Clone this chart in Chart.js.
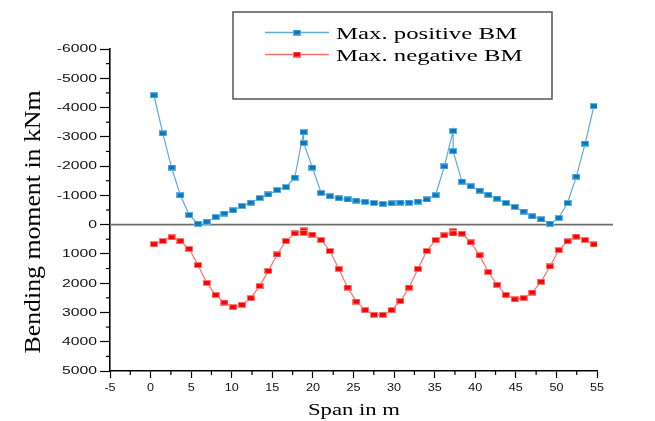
<!DOCTYPE html>
<html>
<head>
<meta charset="utf-8">
<script src="https://cdn.jsdelivr.net/npm/chart.js@4"></script>
<style>
  html, body { margin: 0; padding: 0; background: #fff; }
  #bm { display: block; }
</style>
</head>
<body>
<canvas id="bm" width="655" height="421"></canvas>
<script>
/* ---------- data ---------- */
const spans = [0, 1, 2, 3, 4, 5, 6, 7, 8, 9, 10, 11, 12, 13, 14, 15, 16, 17, 17,
  18, 19, 20, 21, 22, 23, 24, 25, 26, 27, 28, 29, 30, 31, 32, 33, 34, 34,
  35, 36, 37, 38, 39, 40, 41, 42, 43, 44, 45, 46, 47, 48, 49, 50];

const positiveBM = [-4420, -3120, -1950, -1000, -330, -30, -100, -260, -380, -490, -640, -750, -910, -1030, -1180, -1280, -1610, -3160, -2790,
  -1950, -1085, -970, -900, -860, -820, -780, -740, -710, -730, -750, -750, -790, -860, -1005, -1990, -3200, -2510,
  -1470, -1310, -1160, -1020, -890, -740, -605, -445, -285, -180, -30, -230, -740, -1640, -2770, -4050];

const negativeBM = [670, 560, 430, 560, 830, 1380, 1990, 2400, 2660, 2820, 2740, 2510, 2100, 1580, 1020, 560, 300, 200, 285,
  340, 525, 900, 1510, 2150, 2630, 2920, 3080, 3080, 2920, 2610, 2150, 1510, 900, 525, 365, 220, 300,
  310, 605, 1050, 1620, 2055, 2400, 2550, 2510, 2320, 1950, 1430, 870, 570, 410, 525, 675];

const seriesNames = ["Max. positive BM", "Max. negative BM"];
const xTitle = "Span in m";
const yTitle = "Bending moment in kNm";

/* ---------- markers ---------- */
function makeMarker(fill, edge) {
  const c = document.createElement("canvas");
  c.width = 8; c.height = 6;
  const g = c.getContext("2d");
  g.fillStyle = edge; g.fillRect(0, 0, 8, 6);
  g.fillStyle = fill; g.fillRect(1, 1, 6, 4);
  return c;
}
const blueMark = makeMarker("#0878bf", "#63b1df");
const redMark = makeMarker("#ff0000", "#ff7a7a");

const toPoints = vals => vals.map((v, i) => ({ x: spans[i], y: v }));

const SERIF = "'Liberation Serif', 'Times New Roman', serif";
const SANS = "'Liberation Sans', Arial, sans-serif";

// stretched text helper (reference text is drawn wide)
function wideText(ctx, text, x, y, font, sx, align, base) {
  ctx.save();
  ctx.font = font;
  ctx.textAlign = align;
  ctx.textBaseline = base;
  ctx.translate(x, y);
  ctx.scale(sx, 1);
  ctx.fillText(text, 0, 0);
  ctx.restore();
}

/* ---------- axes decoration: minor ticks, labels, titles, zero line ---------- */
const decor = {
  id: "decor",
  beforeDatasetsDraw(chart) {
    const ctx = chart.ctx;
    const y = chart.scales.y;
    const area = chart.chartArea;
    const y0 = y.getPixelForValue(0);
    ctx.save();
    ctx.strokeStyle = "#6e6e6e";
    ctx.lineWidth = 1.6;
    ctx.beginPath();
    ctx.moveTo(area.left, y0);
    ctx.lineTo(area.right + 16, y0);
    ctx.stroke();
    ctx.restore();
  },
  afterDraw(chart) {
    const ctx = chart.ctx;
    const y = chart.scales.y;
    const xs = chart.scales.x2;
    const area = chart.chartArea;
    ctx.save();
    ctx.strokeStyle = "#000";
    ctx.lineWidth = 1.2;
    ctx.fillStyle = "#111";

    // y minor ticks + labels
    for (let v = y.min + 500; v < y.max; v += 1000) {
      const p = y.getPixelForValue(v);
      ctx.beginPath(); ctx.moveTo(area.left - 4, p); ctx.lineTo(area.left, p); ctx.stroke();
    }
    y.ticks.forEach(t => {
      wideText(ctx, String(t.value), 97, y.getPixelForValue(t.value) + 0.5,
        "10.5px " + SANS, 1.5, "right", "middle");
    });

    // x minor ticks + labels
    for (let v = xs.min + 2.5; v < xs.max; v += 5) {
      const p = xs.getPixelForValue(v);
      ctx.beginPath(); ctx.moveTo(p, area.bottom); ctx.lineTo(p, area.bottom + 4); ctx.stroke();
    }
    xs.ticks.forEach(t => {
      wideText(ctx, String(t.value), xs.getPixelForValue(t.value), 388,
        "10.5px " + SANS, 1.2, "center", "middle");
    });

    // axis titles
    ctx.fillStyle = "#000";
    ctx.font = "17.5px " + SERIF;
    const xw = ctx.measureText(xTitle).width;
    wideText(ctx, xTitle, 354, 415, "17.5px " + SERIF, 92 / xw, "center", "alphabetic");

    ctx.save();
    ctx.translate(40, 222);
    ctx.rotate(-Math.PI / 2);
    ctx.font = "24px " + SERIF;
    const yw = ctx.measureText(yTitle).width;
    wideText(ctx, yTitle, 0, 0, "24px " + SERIF, 263 / yw, "center", "alphabetic");
    ctx.restore();

    // legend box
    ctx.fillStyle = "#fff";
    ctx.fillRect(233, 12, 319, 87);
    ctx.strokeStyle = "#555";
    ctx.lineWidth = 1.5;
    ctx.strokeRect(233, 12, 319, 87);

    const rows = [
      { y: 32.5, line: "#5fa9d9", mark: blueMark },
      { y: 54.5, line: "#ff6f6f", mark: redMark }
    ];
    ctx.font = "17.5px " + SERIF;
    const lw = ctx.measureText(seriesNames[0]).width;
    rows.forEach((r, i) => {
      ctx.strokeStyle = r.line;
      ctx.lineWidth = 1.3;
      ctx.beginPath(); ctx.moveTo(265, r.y); ctx.lineTo(329, r.y); ctx.stroke();
      ctx.drawImage(r.mark, 297 - 4, r.y - 3);
      ctx.fillStyle = "#000";
      wideText(ctx, seriesNames[i], 336, r.y + 6, "17.5px " + SERIF, 181 / lw, "left", "alphabetic");
    });
    ctx.restore();
  }
};

/* ---------- chart ---------- */
new Chart(document.getElementById("bm"), {
  type: "line",
  data: {
    datasets: [
      {
        label: seriesNames[0],
        data: toPoints(positiveBM),
        borderColor: "#5fa9d9",
        borderWidth: 1.2,
        pointStyle: blueMark,
        xAxisID: "x",
        yAxisID: "y"
      },
      {
        label: seriesNames[1],
        data: toPoints(negativeBM),
        borderColor: "#ff6f6f",
        borderWidth: 1.2,
        pointStyle: redMark,
        xAxisID: "x",
        yAxisID: "y"
      }
    ]
  },
  options: {
    responsive: false,
    animation: false,
    layout: { padding: { top: 49, right: 58, left: 0, bottom: 0 } },
    plugins: { legend: { display: false }, tooltip: { enabled: false } },
    scales: {
      // span positions as plotted in the reference frame
      x: { type: "linear", display: false, min: -5, max: 50.35 },
      x2: {
        type: "linear",
        position: "bottom",
        min: -5, max: 55,
        ticks: { display: false, stepSize: 5 },
        grid: { drawOnChartArea: false, drawTicks: true, tickLength: 7, tickColor: "#000", tickWidth: 1.2 },
        border: { color: "#000", width: 1.6 },
        afterFit(s) { s.height = 50; }
      },
      y: {
        type: "linear",
        reverse: true,
        min: -6000, max: 5000,
        ticks: { display: false, stepSize: 1000 },
        grid: { drawOnChartArea: false, drawTicks: true, tickLength: 10, tickColor: "#000", tickWidth: 1.2 },
        border: { color: "#000", width: 1.6 },
        afterFit(s) { s.width = 110; }
      }
    }
  },
  plugins: [decor]
});
</script>
</body>
</html>
